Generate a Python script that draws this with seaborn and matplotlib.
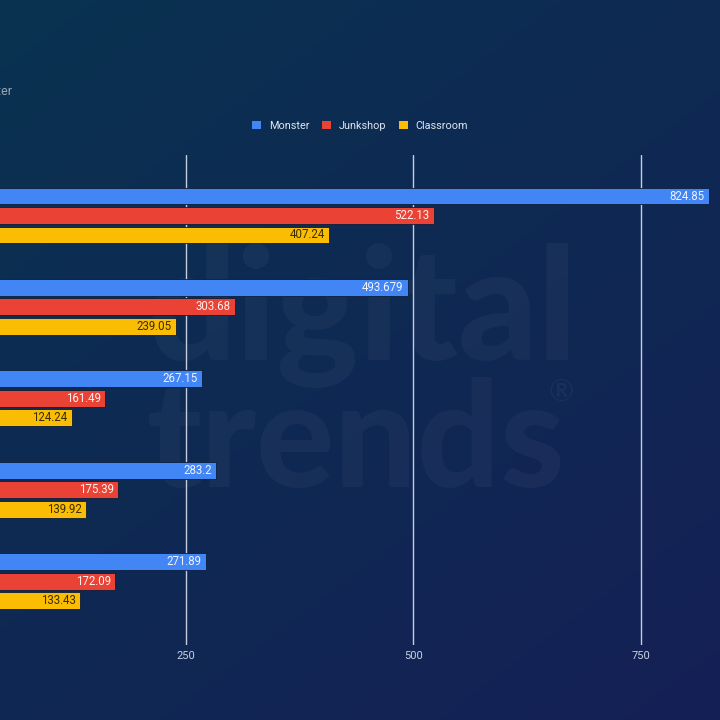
import numpy as np
import pandas as pd
import matplotlib
matplotlib.use("Agg")
import matplotlib.pyplot as plt
from matplotlib.patches import Patch
import seaborn as sns

# ---- data ----
categories = ["Group 1", "Group 2", "Group 3", "Group 4", "Group 5"]
series = ["Monster", "Junkshop", "Classroom"]
monster = [824.85, 493.679, 267.15, 283.2, 271.89]
junkshop = [522.13, 303.68, 161.49, 175.39, 172.09]
classroom = [407.24, 239.05, 124.24, 139.92, 133.43]
x_ticks = [250, 500, 750]
subtitle = "Higher is better"

colors = {"Monster": "#4285F4", "Junkshop": "#EA4335", "Classroom": "#FBBC04"}
label_colors = {"Monster": "#eef3ff", "Junkshop": "#fff0ee", "Classroom": "#3a2d00"}

rows = []
for name, vals in zip(series, [monster, junkshop, classroom]):
    for c, v in zip(categories, vals):
        rows.append({"category": c, "series": name, "value": v})
df = pd.DataFrame(rows)

sns.set_theme(style="white")
plt.rcParams["font.family"] = ["Roboto", "DejaVu Sans"]

fig = plt.figure(figsize=(7.2, 7.2), dpi=100)

# background gradient
bg = fig.add_axes([0, 0, 1, 1], zorder=-10)
n = 256
yy, xx = np.mgrid[0:1:n * 1j, 0:1:n * 1j]
t = np.clip((xx * 0.6 + yy * 0.8) / 1.4, 0, 1)[..., None]
c0 = np.array([9, 50, 80]) / 255.0
c1 = np.array([21, 32, 86]) / 255.0
img = c0 * (1 - t) + c1 * t
bg.imshow(img, extent=[0, 1, 0, 1], aspect="auto", origin="upper")
bg.set_xlim(0, 1)
bg.set_ylim(0, 1)
bg.axis("off")

# watermark
bg.text(147 / 720, 1 - 360 / 720, "digital", fontfamily="Lato", fontweight="black",
        fontsize=112, color="white", alpha=0.035, va="baseline", ha="left")
bg.text(147 / 720, 1 - 487 / 720, "trends", fontfamily="Lato", fontweight="black",
        fontsize=105, color="white", alpha=0.035, va="baseline", ha="left")
bg.text(561 / 720, 1 - 393 / 720, "®", fontfamily="Lato", fontsize=22,
        color="white", alpha=0.045, va="center", ha="center")

# main axes
px = 0.91  # pixels per unit
left_px = -41.5
ax = fig.add_axes([left_px / 720, 75 / 720, (720 - left_px) / 720, 490 / 720])
ax.set_facecolor("none")

sns.barplot(data=df, y="category", x="value", hue="series", orient="h",
            palette=colors, width=0.64, gap=0.13, ax=ax, legend=False,
            saturation=1, linewidth=0.6, edgecolor="#0b1e3a")

ax.set_xlim(0, (720 - left_px) / px)
ax.set_ylim(4.70, -0.662)
ax.set_xticks(x_ticks)
ax.set_xticklabels([str(v) for v in x_ticks], color="#c9d2e3", fontsize=8)
ax.tick_params(axis="x", length=0, pad=4)
ax.set_yticks([])
ax.set_xlabel("")
ax.set_ylabel("")
for s in ax.spines.values():
    s.set_visible(False)
for xv in x_ticks:
    ax.axvline(xv, color="#c5cddc", linewidth=1, zorder=0)

# value labels
for cont, name in zip(ax.containers, series):
    for patch in cont.patches:
        w = patch.get_width()
        yc = patch.get_y() + patch.get_height() / 2
        ax.annotate(f"{w:g}", xy=(w, yc), xytext=(-3, 0), textcoords="offset points",
                    ha="right", va="center", fontsize=8.3, color=label_colors[name])

# legend
handles = [Patch(facecolor=colors[s], edgecolor="none", label=s) for s in series]
leg = fig.legend(handles=handles, loc="center", bbox_to_anchor=(360 / 720, 1 - 126 / 720),
                 ncol=3, frameon=False, fontsize=7.8, handlelength=0.8, handleheight=0.8,
                 handletextpad=0.7, columnspacing=1.2, labelcolor="#dfe5f0")

# subtitle (cropped)
fig.text(12 / 720, 1 - 92 / 720, subtitle, ha="right", va="center",
         fontsize=9, color="#9aa7b8")

fig.savefig("out.png", dpi=100)
